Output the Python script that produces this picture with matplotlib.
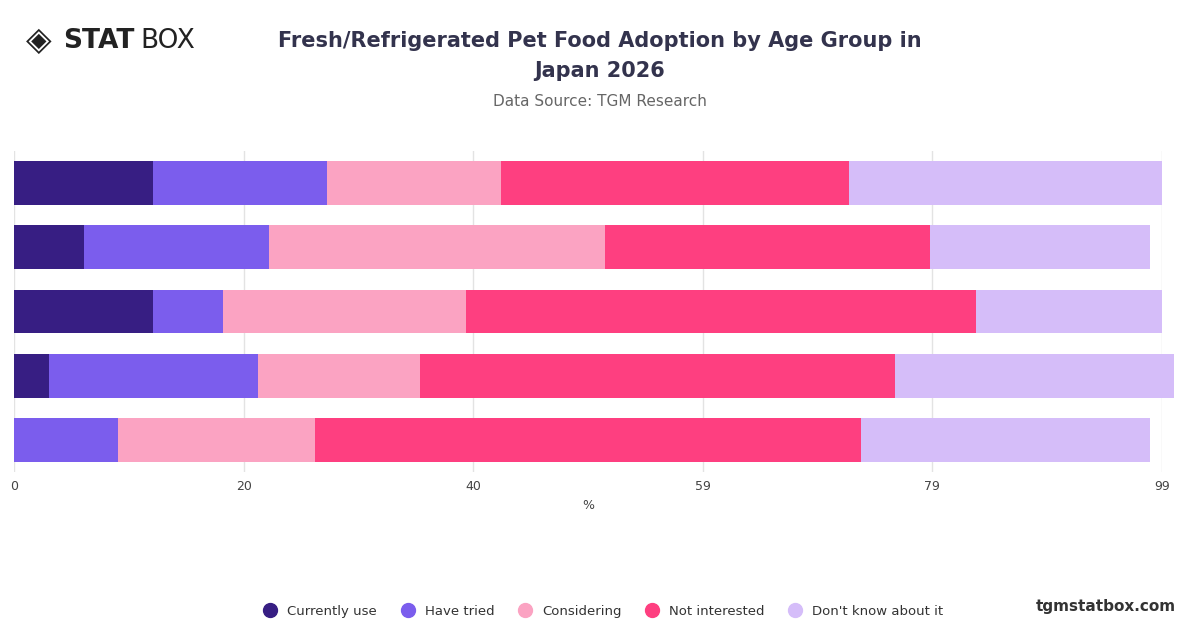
import matplotlib
matplotlib.use("Agg")
import matplotlib.pyplot as plt
import numpy as np

groups = ["18-24", "25-34", "35-44", "45-54", "55+"]
series = ["Currently use", "Have tried", "Considering", "Not interested", "Don't know about it"]
colors = ["#371e83", "#7b5ded", "#fba3c2", "#fe3f80", "#d5bdf9"]
values = [
    [12, 15, 15, 30, 27],
    [6, 16, 29, 28, 19],
    [12, 6, 21, 44, 16],
    [3, 18, 14, 41, 24],
    [0, 9, 17, 47, 25],
]
tick_vals = np.linspace(0, 99, 6)
tick_labels = ["0", "20", "40", "59", "79", "99"]

fig = plt.figure(figsize=(12, 6.28), dpi=100)
ax = fig.add_axes([14/1200, 1-472/628, 1148/1200, 321/628])
vals = np.array(values, dtype=float)
y = np.arange(len(groups))
left = np.zeros(len(groups))
for j, s in enumerate(series):
    ax.barh(y, vals[:, j], left=left, height=0.685, color=colors[j], label=s, clip_on=False, zorder=3)
    left += vals[:, j]
ax.set_ylim(len(groups) - 0.5, -0.5)
ax.set_xlim(0, 99)
ax.set_yticks([])
ax.set_xticks(tick_vals)
ax.set_xticklabels(tick_labels, fontsize=9, color="#444444")
ax.tick_params(axis="x", length=0, pad=6)
ax.grid(axis="x", color="#e3e3e3", lw=1, zorder=0)
for sp in ax.spines.values():
    sp.set_visible(False)
ax.set_xlabel("%", fontsize=9, color="#444444", labelpad=4)

fig.text(0.5, 0.935, "Fresh/Refrigerated Pet Food Adoption by Age Group in", ha="center", va="center",
         fontsize=15, fontweight="bold", color="#33334d")
fig.text(0.5, 0.887, "Japan 2026", ha="center", va="center", fontsize=15, fontweight="bold", color="#33334d")
fig.text(0.5, 0.838, "Data Source: TGM Research", ha="center", va="center", fontsize=11, color="#666666")
fig.text(0.022, 0.935, "◈", ha="left", va="center", fontsize=24, color="#222222")
fig.text(0.053, 0.935, "STAT", ha="left", va="center", fontsize=19, fontweight="bold", color="#222222")
fig.text(0.117, 0.935, "BOX", ha="left", va="center", fontsize=19, color="#222222")
fig.text(0.98, 0.035, "tgmstatbox.com", ha="right", va="center", fontsize=11, fontweight="bold", color="#333333")

hs = [plt.Line2D([], [], marker="o", ls="", ms=10, color=c) for c in colors]
fig.legend(hs, series, loc="center", bbox_to_anchor=(0.5, 0.027), ncol=5, frameon=False,
           fontsize=9.5, handletextpad=0.3, columnspacing=1.3, labelcolor="#333333")
fig.savefig("out.png", dpi=100)
